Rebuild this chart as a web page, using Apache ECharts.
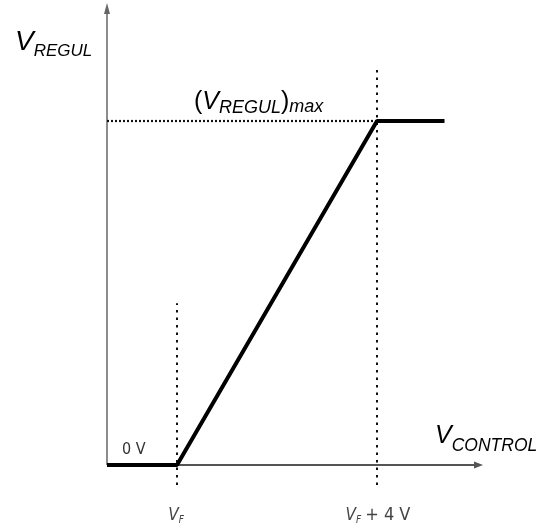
<!DOCTYPE html>
<html>
<head>
<meta charset="utf-8">
<script src="https://cdn.jsdelivr.net/npm/echarts@6/dist/echarts.min.js"></script>
<style>
  html, body { margin: 0; padding: 0; background: #fff; }
  #chart { width: 541px; height: 526px; }
</style>
</head>
<body>
<div id="chart"></div>
<script>
// Transfer characteristic of the regulator: output voltage vs control voltage.
const controlX = [0, 1.4, 5.4, 6.75];   // V_CONTROL breakpoints (V_F = 1.4)
const regulY   = [0, 0, 10, 10];        // V_REGUL at each breakpoint, 10 = (V_REGUL)max
const tickValues = [1.4, 5.4];          // V_F and V_F + 4 V
const tickMain = ['V', 'V'];
const tickSub  = ['F', 'F'];
const tickTail = ['', '+ 4 V'];
const vMax = 10;

const xRange = [0, 7.52];
const yRange = [-1, 13.45];

const chart = echarts.init(document.getElementById('chart'), null, { renderer: 'canvas' });

const dotted = { color: '#111', width: 2, type: [2.5, 5] };
const dense  = { color: '#111', width: 2.2, type: [2, 2] };

chart.setOption({
  animation: false,
  backgroundColor: '#fff',
  grid: { left: 107, right: 58, top: 2.32, bottom: 26.6 },
  xAxis: { type: 'value', min: xRange[0], max: xRange[1], show: false },
  yAxis: { type: 'value', min: yRange[0], max: yRange[1], show: false },
  series: [
    {
      name: 'axes',
      type: 'line',
      data: [],
      silent: true,
      markLine: {
        silent: true,
        symbol: 'none',
        label: { show: false },
        emphasis: { disabled: true },
        data: [
          // vertical axis
          [
            { coord: [0, 0], symbol: 'none', lineStyle: { color: '#666', width: 1.5, type: 'solid' } },
            { coord: [0, 13.27], symbol: 'triangle', symbolSize: [6, 11] }
          ],
          // horizontal axis
          [
            { coord: [0, 0], symbol: 'none', lineStyle: { color: '#555', width: 2, type: 'solid' } },
            { coord: [7.43, 0], symbol: 'triangle', symbolSize: [7, 9] }
          ],
          // guide at V_F
          [
            { coord: [tickValues[0], -0.58], symbol: 'none', lineStyle: dotted },
            { coord: [tickValues[0], 4.7], symbol: 'none' }
          ],
          // guide at V_F + 4 V
          [
            { coord: [tickValues[1], -0.58], symbol: 'none', lineStyle: dotted },
            { coord: [tickValues[1], 11.54], symbol: 'none' }
          ],
          // guide at (V_REGUL)max
          [
            { coord: [0, vMax], symbol: 'none', lineStyle: dense },
            { coord: [tickValues[1], vMax], symbol: 'none' }
          ]
        ]
      }
    },
    {
      name: 'V_REGUL',
      type: 'line',
      data: controlX.map((x, i) => [x, regulY[i]]),
      symbol: 'none',
      lineStyle: { color: '#000', width: 4 },
      z: 5,
      silent: true
    }
  ]
});

// Lay out a sequence of text runs on a common baseline.
const ctx = document.createElement('canvas').getContext('2d');
function fontOf(r) {
  return (r.italic ? 'italic ' : '') + r.size + 'px ' + (r.family || "'Liberation Sans', Arial, sans-serif");
}
function runs(x, baseline, list, color) {
  const out = [];
  let cx = x;
  list.forEach(r => {
    const font = fontOf(r);
    ctx.font = font;
    out.push({
      type: 'text',
      silent: true,
      z: 10,
      style: {
        text: r.text,
        x: cx,
        y: baseline + (r.dy || 0) - 0.35 * r.size,
        font: font,
        fill: r.color || color || '#000',
        align: 'left',
        verticalAlign: 'middle'
      }
    });
    cx += ctx.measureText(r.text).width + (r.gap || 0);
  });
  return out;
}
function width(list) {
  let w = 0;
  list.forEach(r => { ctx.font = fontOf(r); w += ctx.measureText(r.text).width + (r.gap || 0); });
  return w;
}

const narrow = "'Liberation Sans Narrow', 'DejaVu Sans Condensed', 'Liberation Sans', sans-serif";
const elements = [];

// axis titles
elements.push(...runs(15, 52, [
  { text: 'V', size: 28, italic: true },
  { text: 'REGUL', size: 17, italic: true, dy: 5 }
]));
elements.push(...runs(435, 445, [
  { text: 'V', size: 25, italic: true },
  { text: 'CONTROL', size: 17.5, italic: true, dy: 7 }
]));

// label of the saturation level
const maxPos = chart.convertToPixel({ gridIndex: 0 }, [tickValues[1], vMax]);
const maxRuns = [
  { text: '(', size: 25 },
  { text: 'V', size: 25, italic: true },
  { text: 'REGUL', size: 18, italic: true, dy: 3 },
  { text: ')', size: 25 },
  { text: 'max', size: 18, italic: true, dy: 2 }
];
elements.push(...runs(maxPos[0] - 183, maxPos[1] - 10, maxRuns));

// zero-output label
const zeroPos = chart.convertToPixel({ gridIndex: 0 }, [controlX[0], regulY[0]]);
elements.push(...runs(zeroPos[0] + 15, zeroPos[1] - 10, [
  { text: '0 V', size: 16, family: narrow, gap: 0 }
], '#333'));

// tick labels under the guides
tickValues.forEach((v, i) => {
  const p = chart.convertToPixel({ gridIndex: 0 }, [v, 0]);
  const list = [
    { text: tickMain[i], size: 17, italic: true, family: narrow },
    { text: tickSub[i], size: 10, italic: true, family: narrow, dy: 2, gap: 4 }
  ];
  if (tickTail[i]) list.push({ text: tickTail[i], size: 18, family: narrow });
  const w = width(list);
  elements.push(...runs(p[0] - w / 2 + 1, p[1] + 57, list, '#444'));
});

chart.setOption({ graphic: { elements: elements } });
</script>
</body>
</html>
